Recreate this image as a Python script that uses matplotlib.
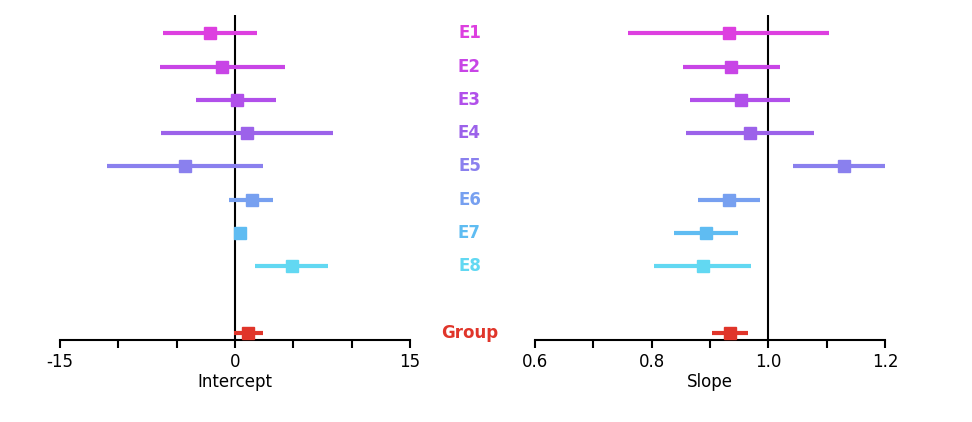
import numpy as np
import matplotlib.pyplot as plt

labels = ["E1", "E2", "E3", "E4", "E5", "E6", "E7", "E8", "Group"]
rows = [1, 2, 3, 4, 5, 6, 7, 8, 10]
colors = ["#dd3fe0", "#c845e6", "#b150ea", "#9c62ea", "#8a80ee", "#77a0f0", "#5fbcf2", "#62d8f2", "#e0352a"]

int_mid = [-2.1, -1.1, 0.2, 1.0, -4.3, 1.5, 0.4, 4.9, 1.1]
int_lo = [-6.2, -6.4, -3.3, -6.3, -11.0, -0.5, 0.2, 1.7, -0.1]
int_hi = [1.9, 4.3, 3.5, 8.4, 2.4, 3.3, 0.6, 8.0, 2.4]

slope_mid = [0.933, 0.936, 0.953, 0.969, 1.130, 0.933, 0.893, 0.888, 0.934]
slope_lo = [0.760, 0.854, 0.866, 0.859, 1.043, 0.880, 0.838, 0.804, 0.904]
slope_hi = [1.104, 1.020, 1.037, 1.079, 1.219, 0.986, 0.948, 0.970, 0.965]

fig = plt.figure(figsize=(9.72, 4.22), dpi=100)
ax1 = fig.add_axes([0.0617, 0.194, 0.36, 0.77])
ax2 = fig.add_axes([0.5504, 0.194, 0.36, 0.77])

def panel(ax, mid, lo, hi, ref, xlim, major, minor, xlabel, ticklabels):
    ax.axvline(ref, color="black", lw=1.5, zorder=1)
    for y, m, l, h, c in zip(rows, mid, lo, hi, colors):
        ax.plot([l, h], [y, y], color=c, lw=3, solid_capstyle="butt", zorder=2)
        ax.plot(m, y, "s", color=c, ms=8, zorder=3)
    ax.set_xlim(*xlim)
    ax.set_ylim(10.21, 0.46)
    for s in ["top", "right", "left"]:
        ax.spines[s].set_visible(False)
    ax.spines["bottom"].set_linewidth(1.5)
    ax.set_yticks([])
    ax.set_xticks(major)
    ax.set_xticklabels(ticklabels, fontsize=12)
    ax.set_xticks(minor, minor=True)
    ax.tick_params(axis="x", which="both", direction="out", length=6, width=1.5)
    ax.set_xlabel(xlabel, fontsize=12, labelpad=1)

panel(ax1, int_mid, int_lo, int_hi, 0, (-15, 15), [-15, 0, 15], [-10, -5, 5, 10],
      "Intercept", ["-15", "0", "15"])
panel(ax2, slope_mid, slope_lo, slope_hi, 1.0, (0.6, 1.2), [0.6, 0.8, 1.0, 1.2], [0.7, 0.9, 1.1],
      "Slope", ["0.6", "0.8", "1.0", "1.2"])

for y, lab, c in zip(rows, labels, colors):
    yf = 0.194 + 0.77 * (10.21 - y) / (10.21 - 0.46)
    fig.text(0.483, yf, lab, color=c, fontsize=12, fontweight="bold", ha="center", va="center")

fig.savefig("out.png", dpi=100)
